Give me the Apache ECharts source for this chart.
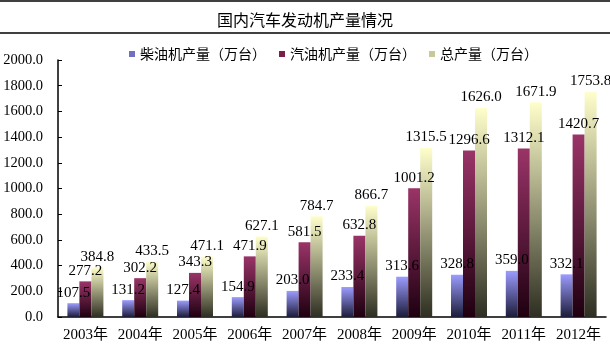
<!DOCTYPE html>
<html>
<head>
<meta charset="utf-8">
<script src="https://cdn.jsdelivr.net/npm/echarts@6/dist/echarts.min.js"></script>
<style>
  html, body { margin: 0; padding: 0; background: #fff; }
  #chart { width: 610px; height: 351px; }
</style>
</head>
<body>
<div id="chart"></div>
<script>
// 年份
const years = ['2003年', '2004年', '2005年', '2006年', '2007年', '2008年', '2009年', '2010年', '2011年', '2012年']
// 柴油机产量（万台）
const diesel = [107.5, 131.2, 127.4, 154.9, 203.0, 233.4, 313.6, 328.8, 359.0, 332.1]
// 汽油机产量（万台）
const gasoline = [277.2, 302.2, 343.3, 471.9, 581.5, 632.8, 1001.2, 1296.6, 1312.1, 1420.7]
// 总产量（万台）
const total = [384.8, 433.5, 471.1, 627.1, 784.7, 866.7, 1315.5, 1626.0, 1671.9, 1753.8]
const seriesNames = ['柴油机产量（万台）', '汽油机产量（万台）', '总产量（万台）']

const serif = '"Liberation Serif", "Times New Roman", "Noto Sans CJK SC", serif'
const cjk = '"Noto Sans CJK SC", sans-serif'

const grad = (top, bottom) => new echarts.graphic.LinearGradient(0, 0, 0, 1, [
  { offset: 0, color: top },
  { offset: 1, color: bottom },
])

const labelStyle = {
  show: true,
  position: 'top',
  distance: 3,
  color: '#000',
  fontFamily: serif,
  fontSize: 15,
  formatter: (p) => p.value.toFixed(1),
}

const chartInstance = echarts.init(document.getElementById('chart'))
const option = {
  animation: false,
  title: {
    text: '国内汽车发动机产量情况',
    left: 'center',
    top: 7,
    textStyle: { fontFamily: cjk, fontSize: 16, fontWeight: 'normal', color: '#000' },
  },
  graphic: [
    { type: 'line', shape: { x1: 0, y1: 1, x2: 610, y2: 1 }, style: { stroke: '#000', lineWidth: 1.5 } },
    { type: 'line', shape: { x1: 0, y1: 33, x2: 610, y2: 33 }, style: { stroke: '#000', lineWidth: 1.5 } },
  ],
  legend: {
    top: 42,
    left: 124,
    itemWidth: 6,
    itemHeight: 6,
    itemGap: 13,
    icon: 'rect',
    textStyle: { fontFamily: cjk, fontSize: 14, color: '#000' },
    data: [
      { name: seriesNames[0], itemStyle: { color: '#6f6fc4' } },
      { name: seriesNames[1], itemStyle: { color: '#7a1f4a' } },
      { name: seriesNames[2], itemStyle: { color: '#c8c89a' } },
    ],
  },
  grid: { left: 58, right: 4, top: 60, bottom: 34 },
  xAxis: {
    type: 'category',
    data: years,
    boundaryGap: true,
    axisLine: { lineStyle: { color: '#000', width: 1.5 } },
    axisTick: { inside: true, length: 5, lineStyle: { color: '#000' } },
    axisLabel: { interval: 0, color: '#000', fontFamily: serif, fontSize: 15, margin: 11 },
  },
  yAxis: {
    type: 'value',
    min: 0,
    max: 2000,
    interval: 200,
    axisLine: { show: true, lineStyle: { color: '#000', width: 1.5 } },
    axisTick: { show: true, inside: true, length: 4, lineStyle: { color: '#000' } },
    splitLine: { show: false },
    axisLabel: { color: '#000', fontFamily: serif, fontSize: 14.5, margin: 15, formatter: (v) => v.toFixed(1) },
  },
  series: [
    {
      name: seriesNames[0],
      type: 'bar',
      data: diesel,
      barWidth: 12,
      barGap: '0%',
      itemStyle: { color: grad('#9c9cff', '#1c1c3a') },
      label: labelStyle,
    },
    {
      name: seriesNames[1],
      type: 'bar',
      data: gasoline,
      barWidth: 12,
      barGap: '0%',
      itemStyle: { color: grad('#9a3468', '#1e0010') },
      label: labelStyle,
    },
    {
      name: seriesNames[2],
      type: 'bar',
      data: total,
      barWidth: 12,
      barGap: '0%',
      itemStyle: { color: grad('#ffffcc', '#2e2e22') },
      label: labelStyle,
    },
  ],
}
chartInstance.setOption(option)
</script>
</body>
</html>
